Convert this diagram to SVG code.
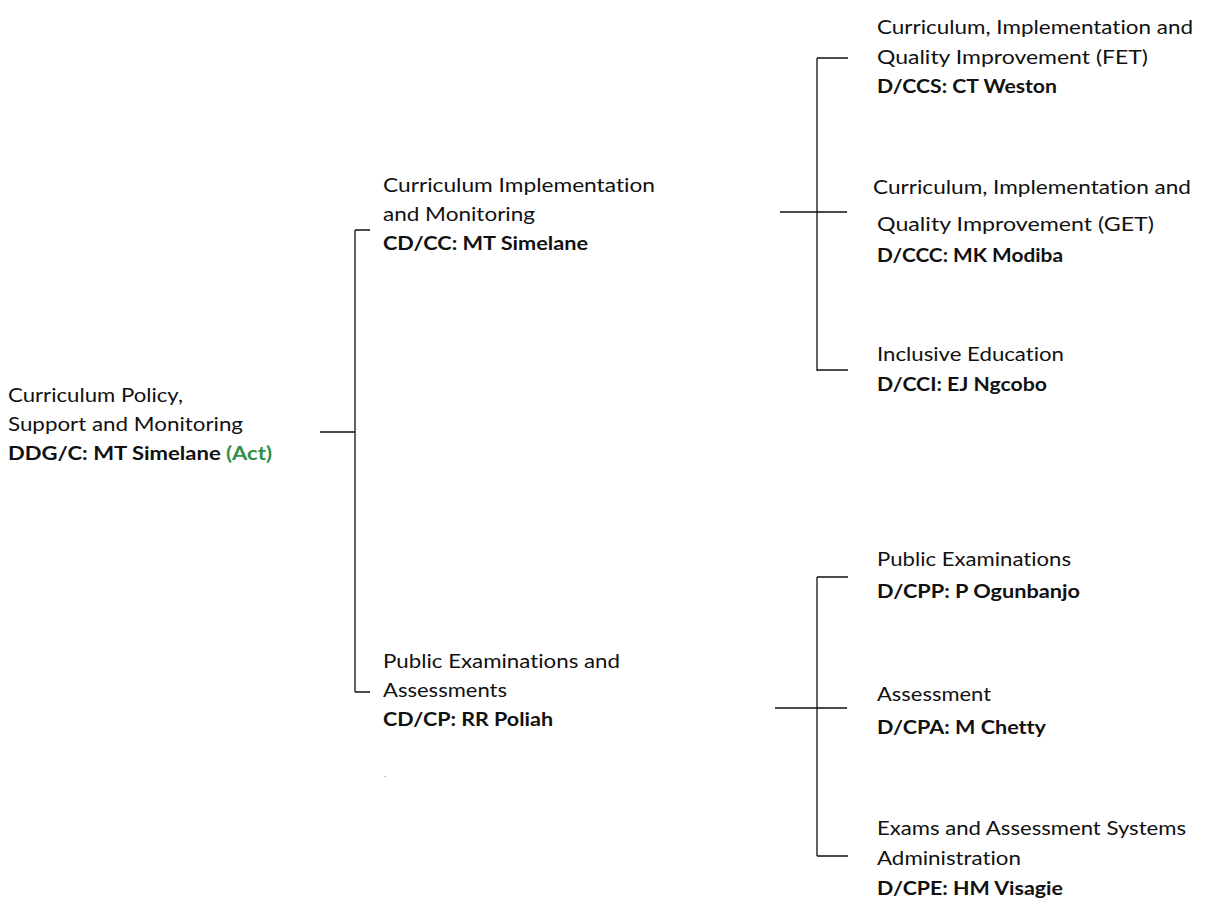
<svg xmlns="http://www.w3.org/2000/svg" width="1205" height="914" viewBox="0 0 1205 914">
<style>
text{font-family:"Lato","Open Sans",sans-serif;font-size:19.5px;fill:#111;font-variant-ligatures:none}
.b{font-weight:bold}
.g{fill:#2f8f46}
.c{stroke:#111;stroke-width:1.3;fill:none}
</style>
<rect width="1205" height="914" fill="#fff"/>
<g id="connectors">
<path class="c" d="M320 432H355M355 230V692M355 230H370M355 692H370"/>
<path class="c" d="M780 212H847M817 58V371M817 58H848M817 370H848"/>
<path class="c" d="M775 708H847M817 577V856M817 577H848M817 856H848"/>
</g>
<g id="root">
<text x="8" y="402" textLength="175" lengthAdjust="spacingAndGlyphs">Curriculum Policy,</text>
<text x="8" y="431" textLength="235" lengthAdjust="spacingAndGlyphs">Support and Monitoring</text>
<text x="8" y="460" class="b" textLength="264" lengthAdjust="spacingAndGlyphs">DDG/C: MT Simelane <tspan class="g">(Act)</tspan></text>
</g>
<g id="cd-cc">
<text x="383" y="192" textLength="272" lengthAdjust="spacingAndGlyphs">Curriculum Implementation</text>
<text x="383" y="221" textLength="152" lengthAdjust="spacingAndGlyphs">and Monitoring</text>
<text x="383" y="250" class="b" textLength="205" lengthAdjust="spacingAndGlyphs">CD/CC: MT Simelane</text>
</g>
<g id="cd-cp">
<text x="383" y="668" textLength="237" lengthAdjust="spacingAndGlyphs">Public Examinations and</text>
<text x="383" y="697" textLength="124" lengthAdjust="spacingAndGlyphs">Assessments</text>
<text x="383" y="726" class="b" textLength="170" lengthAdjust="spacingAndGlyphs">CD/CP: RR Poliah</text>
<text x="384" y="777" style="font-size:8px;fill:#666">.</text>
</g>
<g id="d-ccs">
<text x="877" y="34" textLength="316" lengthAdjust="spacingAndGlyphs">Curriculum, Implementation and</text>
<text x="877" y="64" textLength="271" lengthAdjust="spacingAndGlyphs">Quality Improvement (FET)</text>
<text x="877" y="93" class="b" textLength="180" lengthAdjust="spacingAndGlyphs">D/CCS: CT Weston</text>
</g>
<g id="d-ccc">
<text x="873" y="194" textLength="318" lengthAdjust="spacingAndGlyphs">Curriculum, Implementation and</text>
<text x="877" y="231" textLength="277" lengthAdjust="spacingAndGlyphs">Quality Improvement (GET)</text>
<text x="877" y="262" class="b" textLength="186" lengthAdjust="spacingAndGlyphs">D/CCC: MK Modiba</text>
</g>
<g id="d-cci">
<text x="877" y="361" textLength="187" lengthAdjust="spacingAndGlyphs">Inclusive Education</text>
<text x="877" y="391" class="b" textLength="170" lengthAdjust="spacingAndGlyphs">D/CCI: EJ Ngcobo</text>
</g>
<g id="d-cpp">
<text x="877" y="566" textLength="194" lengthAdjust="spacingAndGlyphs">Public Examinations</text>
<text x="877" y="598" class="b" textLength="203" lengthAdjust="spacingAndGlyphs">D/CPP: P Ogunbanjo</text>
</g>
<g id="d-cpa">
<text x="877" y="701" textLength="114" lengthAdjust="spacingAndGlyphs">Assessment</text>
<text x="877" y="734" class="b" textLength="169" lengthAdjust="spacingAndGlyphs">D/CPA: M Chetty</text>
</g>
<g id="d-cpe">
<text x="877" y="835" textLength="309" lengthAdjust="spacingAndGlyphs">Exams and Assessment Systems</text>
<text x="877" y="865" textLength="144" lengthAdjust="spacingAndGlyphs">Administration</text>
<text x="877" y="895" class="b" textLength="186" lengthAdjust="spacingAndGlyphs">D/CPE: HM Visagie</text>
</g>
</svg>
